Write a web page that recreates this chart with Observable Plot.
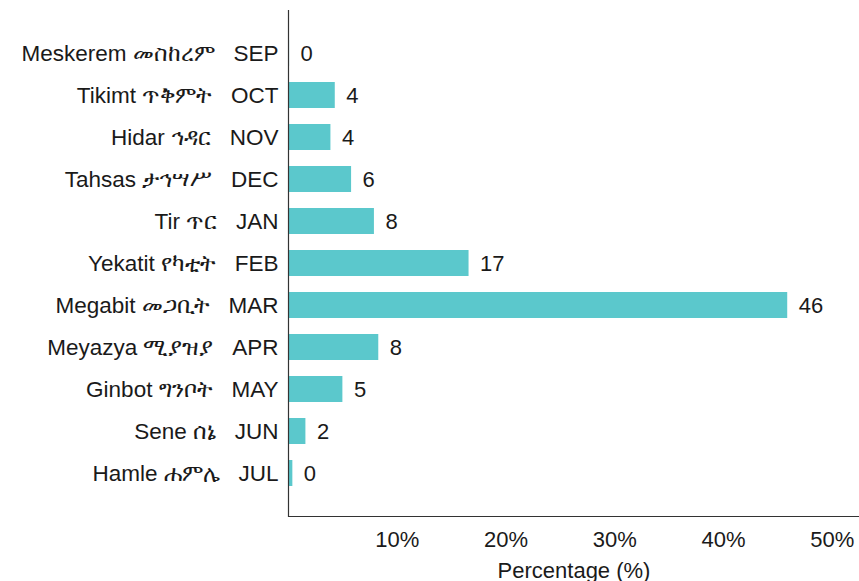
<!DOCTYPE html>
<html>
<head>
<meta charset="utf-8">
<script src="https://cdn.jsdelivr.net/npm/d3@7"></script>
<script src="https://cdn.jsdelivr.net/npm/@observablehq/plot@0.6"></script>
<style>
  html, body { margin: 0; padding: 0; background: #fff; }
  #chart svg { display: block; }
</style>
</head>
<body>
<div id="chart"></div>
<script>
const ethiopianNames = ["Meskerem", "Tikimt", "Hidar", "Tahsas", "Tir", "Yekatit", "Megabit", "Meyazya", "Ginbot", "Sene", "Hamle"];
const amharicNames = ["መስከረም", "ጥቅምት", "ኅዳር", "ታኅሣሥ", "ጥር", "የካቲት", "መጋቢት", "ሚያዝያ", "ግንቦት", "ሰኔ", "ሐምሌ"];
const monthAbbr = ["SEP", "OCT", "NOV", "DEC", "JAN", "FEB", "MAR", "APR", "MAY", "JUN", "JUL"];
const percentages = [0.1, 4.3, 3.9, 5.8, 7.9, 16.6, 45.9, 8.3, 5.0, 1.6, 0.4];
const valueLabels = ["0", "4", "4", "6", "8", "17", "46", "8", "5", "2", "0"];
const xTicks = [10, 20, 30, 40, 50];

const SP = "\u00a0\u00a0\u00a0";
const data = monthAbbr.map((m, i) => ({
  label: `${ethiopianNames[i]} ${amharicNames[i]}${SP}${m}`,
  value: percentages[i],
  text: valueLabels[i]
}));

const chart = Plot.plot({
  width: 859,
  height: 581,
  marginLeft: 288,
  marginRight: 0,
  marginTop: 10,
  marginBottom: 65,
  style: { fontFamily: "'Liberation Sans', Arial, sans-serif", fontSize: "22px", color: "#1a1a1a", background: "#fff" },
  x: { domain: [0, 52.5] },
  y: { domain: data.map(d => d.label), paddingInner: 0.39, paddingOuter: 0.64 },
  marks: [
    Plot.barX(data, { x: "value", y: "label", fill: "#5BC8CC" }),
    Plot.text(data, { x: "value", y: "label", text: "text", textAnchor: "start", dx: 11, fontSize: 22, fill: "#1a1a1a" }),
    Plot.axisY({ tickSize: 0, tickPadding: 10, label: null, fontSize: 22.5 }),
    Plot.axisX({ ticks: xTicks, tickFormat: d => d + "%", tickSize: 0, tickPadding: 15, fontSize: 22,
                 label: "Percentage (%)", labelArrow: "none", labelAnchor: "center", labelOffset: 61 }),
    Plot.ruleX([0], { stroke: "#333", strokeWidth: 1.2 }),
    Plot.frame({ anchor: "bottom", stroke: "#333", strokeWidth: 1.2 })
  ]
});
document.getElementById("chart").appendChild(chart);
</script>
</body>
</html>
